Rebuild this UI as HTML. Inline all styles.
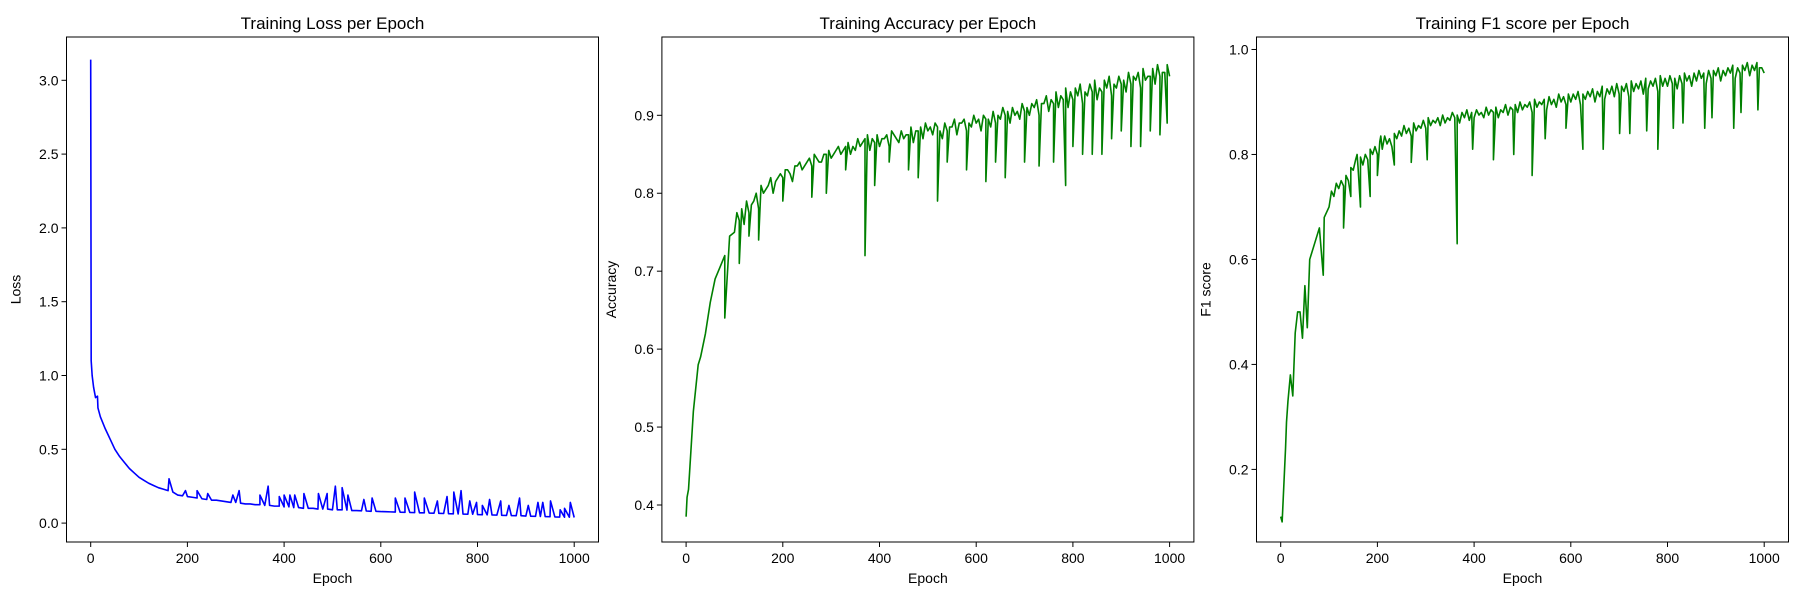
<!DOCTYPE html>
<html><head><meta charset="utf-8"><style>
html,body{margin:0;padding:0;background:#fff;}
svg{display:block;font-family:"Liberation Sans","DejaVu Sans",sans-serif;}
</style></head><body>
<svg id="fig" width="1800" height="600" viewBox="0 0 1800 600"></svg>
<script>
const epochs = [0,10,20,30,40,50,60,70,80,90,100,110,120,130,140,150,160,170,180,190,200,210,220,230,240,250,260,270,280,290,300,310,320,330,340,350,360,370,380,390,400,410,420,430,440,450,460,470,480,490,500,510,520,530,540,550,560,570,580,590,600,610,620,630,640,650,660,670,680,690,700,710,720,730,740,750,760,770,780,790,800,810,820,830,840,850,860,870,880,890,900,910,920,930,940,950,960,970,980,990,1000];
const peakEpochs = [105,115,125,135,145,155,165,175,185,195,205,215,225,235,245,255,265,275,285,295,305,315,325,335,345,355,365,375,385,395,405,415,425,435,445,455,465,475,485,495,505,515,525,535,545,555,565,575,585,595,605,615,625,635,645,655,665,675,685,695,705,715,725,735,745,755,765,775,785,795,805,815,825,835,845,855,865,875,885,895,905,915,925,935,945,955,965,975,985,995];
const xTicks = [0,200,400,600,800,1000];

const lossValues = [3.14,0.85,0.72,0.64,0.57,0.5,0.45,0.41,0.37,0.34,
0.31,0.29,0.27,0.255,0.24,0.23,0.22,0.21,0.19,0.185,
0.18,0.175,0.17,0.165,0.16,0.155,0.155,0.15,0.145,0.14,
0.14,0.135,0.13,0.13,0.125,0.125,0.12,0.12,0.115,0.115,
0.11,0.11,0.105,0.105,0.1,0.1,0.1,0.095,0.095,0.095,
0.09,0.09,0.09,0.088,0.085,0.085,0.083,0.082,0.08,0.08,
0.078,0.077,0.076,0.075,0.074,0.073,0.072,0.071,0.07,0.07,
0.068,0.067,0.066,0.065,0.064,0.063,0.062,0.061,0.06,0.06,
0.058,0.057,0.056,0.055,0.054,0.053,0.052,0.051,0.05,0.05,
0.048,0.047,0.046,0.045,0.044,0.043,0.042,0.041,0.04,0.04,0.038];
const lossSpikeEpochs = [1,3,6,14,15,162,196,220,242,294,307,350,367,390,400,412,422,441,471,489,506,520,532,565,582,630,650,670,690,717,737,751,766,784,798,810,825,848,865,887,905,925,935,951,971,980,992];
const lossSpikeValues = [1.1,1.0,0.92,0.86,0.78,0.3,0.22,0.22,0.2,0.19,0.22,0.19,0.25,0.18,0.19,0.19,0.19,0.2,0.2,0.2,0.25,0.24,0.19,0.16,0.17,0.17,0.17,0.21,0.17,0.15,0.18,0.21,0.22,0.15,0.14,0.12,0.16,0.15,0.12,0.17,0.12,0.14,0.14,0.15,0.09,0.1,0.14];
const lossTicks = [0.0,0.5,1.0,1.5,2.0,2.5,3.0];

const accValues = [0.385,0.47,0.55,0.59,0.62,0.66,0.69,0.705,0.72,0.745,
0.75,0.765,0.76,0.775,0.79,0.78,0.80,0.81,0.80,0.82,
0.82,0.83,0.815,0.835,0.83,0.84,0.835,0.845,0.84,0.85,
0.845,0.855,0.85,0.86,0.85,0.855,0.86,0.87,0.855,0.865,
0.86,0.87,0.86,0.875,0.865,0.87,0.875,0.865,0.88,0.87,
0.88,0.875,0.885,0.87,0.88,0.885,0.875,0.89,0.88,0.885,
0.89,0.88,0.895,0.885,0.89,0.895,0.9,0.89,0.9,0.895,
0.905,0.9,0.91,0.9,0.915,0.905,0.915,0.91,0.92,0.91,
0.92,0.925,0.915,0.925,0.93,0.92,0.93,0.935,0.925,0.935,
0.94,0.93,0.94,0.945,0.935,0.945,0.95,0.94,0.95,0.955,0.95];
const accPeakValues = [0.775,0.78,0.79,0.785,0.80,0.81,0.805,0.82,0.815,0.825,
0.83,0.825,0.835,0.84,0.835,0.845,0.85,0.84,0.85,0.855,
0.85,0.86,0.855,0.865,0.86,0.87,0.865,0.875,0.87,0.875,
0.87,0.875,0.88,0.87,0.88,0.875,0.885,0.88,0.885,0.89,
0.885,0.89,0.88,0.89,0.885,0.895,0.89,0.895,0.89,0.9,
0.895,0.9,0.895,0.905,0.9,0.91,0.905,0.91,0.905,0.915,
0.91,0.915,0.92,0.915,0.925,0.92,0.93,0.925,0.935,0.93,
0.935,0.94,0.93,0.94,0.945,0.935,0.945,0.95,0.94,0.95,
0.945,0.955,0.95,0.955,0.96,0.95,0.96,0.965,0.955,0.965];
const accDipEpochs = [2,5,8,15,25,80,110,130,150,200,260,290,330,370,390,420,460,480,520,540,580,620,640,660,700,730,760,785,800,820,840,860,880,900,920,940,960,980,995];
const accDipValues = [0.41,0.42,0.45,0.52,0.58,0.64,0.71,0.745,0.74,0.79,0.795,0.8,0.83,0.72,0.81,0.84,0.83,0.82,0.79,0.84,0.83,0.815,0.84,0.82,0.84,0.835,0.84,0.81,0.86,0.85,0.85,0.85,0.87,0.88,0.86,0.86,0.88,0.875,0.89];
const accTicks = [0.4,0.5,0.6,0.7,0.8,0.9];

const f1Values = [0.11,0.24,0.38,0.46,0.5,0.55,0.6,0.63,0.66,0.68,
0.7,0.72,0.735,0.74,0.75,0.77,0.775,0.78,0.79,0.8,
0.8,0.81,0.82,0.815,0.83,0.835,0.84,0.835,0.845,0.85,
0.85,0.855,0.86,0.855,0.86,0.865,0.87,0.86,0.87,0.865,
0.87,0.875,0.87,0.875,0.88,0.87,0.88,0.875,0.885,0.88,
0.885,0.89,0.88,0.89,0.895,0.885,0.895,0.89,0.9,0.895,
0.9,0.905,0.895,0.905,0.91,0.9,0.91,0.905,0.915,0.91,
0.915,0.92,0.91,0.92,0.925,0.915,0.925,0.93,0.92,0.93,
0.93,0.935,0.925,0.935,0.94,0.93,0.94,0.945,0.935,0.945,
0.95,0.94,0.95,0.955,0.945,0.955,0.96,0.95,0.96,0.965,0.955];
const f1PeakValues = [0.73,0.745,0.75,0.76,0.775,0.79,0.795,0.80,0.81,0.815,
0.825,0.835,0.83,0.84,0.845,0.855,0.85,0.86,0.855,0.865,
0.87,0.865,0.87,0.875,0.87,0.88,0.875,0.88,0.885,0.88,
0.885,0.88,0.89,0.885,0.89,0.885,0.895,0.89,0.895,0.9,
0.895,0.9,0.905,0.9,0.905,0.91,0.905,0.915,0.91,0.915,
0.915,0.92,0.915,0.92,0.925,0.92,0.93,0.925,0.93,0.935,
0.93,0.935,0.94,0.935,0.94,0.945,0.94,0.945,0.95,0.945,
0.95,0.945,0.95,0.955,0.95,0.955,0.96,0.955,0.96,0.96,
0.965,0.96,0.965,0.97,0.965,0.97,0.975,0.97,0.975,0.965];
const f1DipEpochs = [3,5,8,12,15,25,35,45,55,88,130,145,158,165,185,200,207,235,270,303,365,397,440,482,520,547,590,625,667,701,722,757,780,812,832,877,892,937,952,987];
const f1DipValues = [0.1,0.14,0.2,0.29,0.33,0.34,0.5,0.45,0.47,0.57,0.66,0.72,0.8,0.7,0.72,0.76,0.835,0.78,0.785,0.79,0.63,0.81,0.79,0.8,0.76,0.83,0.85,0.81,0.81,0.84,0.84,0.845,0.81,0.85,0.86,0.85,0.87,0.85,0.88,0.885];
const f1Ticks = [0.2,0.4,0.6,0.8,1.0];

const NS = "http://www.w3.org/2000/svg";
const fig = document.getElementById('fig');
function mk(tag, attrs, parent, text){
  const el = document.createElementNS(NS, tag);
  for (const k in attrs) el.setAttribute(k, attrs[k]);
  if (text !== undefined) el.textContent = text;
  parent.appendChild(el);
  return el;
}
const AX_TOP = 37, AX_BOT = 542, AX_W = 532;

function panel(cfg){
  const g = mk('g', {}, fig);
  
  
  const L = cfg.left;
  const xs = e => L + 24.2 + e * 0.4835;
  const ys = v => cfg.y0px + (v - cfg.y0) * cfg.pxPerUnit;
  const pts = [];
  for (let i = 0; i < epochs.length; i++) pts.push([epochs[i], cfg.values[i]]);
  for (let i = 0; i < cfg.extraE.length; i++) pts.push([cfg.extraE[i], cfg.extraV[i]]);
  if (cfg.peakV) for (let i = 0; i < peakEpochs.length; i++) pts.push([peakEpochs[i], cfg.peakV[i]]);
  pts.sort((a, b) => a[0] - b[0]);
  const d = pts.map((p, i) => (i ? 'L' : 'M') + xs(p[0]).toFixed(2) + ' ' + ys(p[1]).toFixed(2)).join(' ');
  const line = mk('path', {d: d, fill: 'none', stroke: cfg.color, 'stroke-width': 1.6, 'stroke-linejoin': 'round'}, g);
  
  
  const frame = mk('rect', {x: L, y: AX_TOP, width: AX_W, height: AX_BOT - AX_TOP, fill: 'none', stroke: '#000', 'stroke-width': 1}, g);
  
  
  xTicks.forEach(t => {
    const x = xs(t);
    mk('line', {x1: x, x2: x, y1: AX_BOT, y2: AX_BOT + 5, stroke: '#000', 'stroke-width': 1}, g);
    const lbl = mk('text', {x: x, y: AX_BOT + 21, 'font-size': 14, 'text-anchor': 'middle', fill: '#000'}, g, String(t));
    
    
  });
  cfg.ticks.forEach(t => {
    const y = ys(t);
    mk('line', {x1: L - 5, x2: L, y1: y, y2: y, stroke: '#000', 'stroke-width': 1}, g);
    const lbl = mk('text', {x: L - 8, y: y + 5, 'font-size': 14, 'text-anchor': 'end', fill: '#000'}, g, t.toFixed(1));
    
    
  });
  const title = mk('text', {x: L + AX_W / 2, y: 29, 'font-size': 17, 'text-anchor': 'middle', fill: '#000'}, g, cfg.title);
  
  
  const xl = mk('text', {x: L + AX_W / 2, y: 583, 'font-size': 14, 'text-anchor': 'middle', fill: '#000'}, g, 'Epoch');
  
  
  const yx = L - 46, yy = (AX_TOP + AX_BOT) / 2;
  const yl = mk('text', {x: yx, y: yy, 'font-size': 14, 'text-anchor': 'middle', fill: '#000', transform: 'rotate(-90 ' + yx + ' ' + yy + ')'}, g, cfg.ylabel);
  
  
}

panel({name: 'loss', left: 66.5, title: 'Training Loss per Epoch', ylabel: 'Loss', color: '#0000ff',
  values: lossValues, extraE: lossSpikeEpochs, extraV: lossSpikeValues, peakV: null, ticks: lossTicks,
  y0: 0, y0px: 523.1, pxPerUnit: -147.6});
panel({name: 'accuracy', left: 661.9, title: 'Training Accuracy per Epoch', ylabel: 'Accuracy', color: '#008000',
  values: accValues, extraE: accDipEpochs, extraV: accDipValues, peakV: accPeakValues, ticks: accTicks,
  y0: 0.4, y0px: 505, pxPerUnit: -779.4});
panel({name: 'f1', left: 1256.5, title: 'Training F1 score per Epoch', ylabel: 'F1 score', color: '#008000',
  values: f1Values, extraE: f1DipEpochs, extraV: f1DipValues, peakV: f1PeakValues, ticks: f1Ticks,
  y0: 0.2, y0px: 469.4, pxPerUnit: -524.9});
</script>
</body></html>
